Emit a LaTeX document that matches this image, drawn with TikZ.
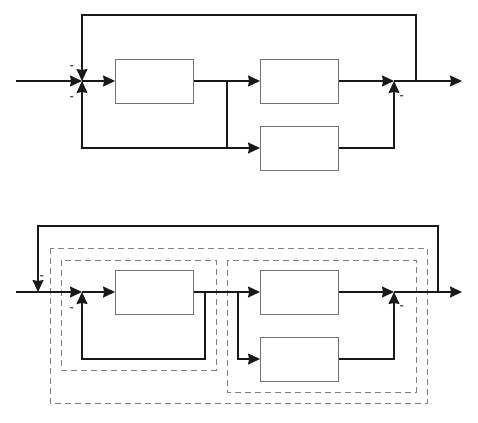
\documentclass[tikz,border=0pt]{standalone}
\usetikzlibrary{arrows.meta}
\begin{document}
\begin{tikzpicture}[x=1pt,y=-1pt,
  blk/.style={draw=black!55,line width=0.9pt,minimum width=78pt,minimum height=44pt,inner sep=0pt},
  conn/.style={line width=1.1pt,draw=black!90},
  arr/.style={conn,-{Stealth[length=12pt,width=11pt,inset=1pt]}},
  grp/.style={draw=black!50,line width=0.7pt,dash pattern=on 6pt off 4pt},
  minus/.style={font=\normalsize\bfseries,inner sep=0pt}]
\useasboundingbox (0,0) rectangle (478,422);
% ---------- top diagram ----------
\coordinate (in1) at (16,81);
\coordinate (s1) at (82,81);
\node[blk] (A) at (154.5,81) {};
\node[blk] (B) at (299.5,81) {};
\node[blk] (C) at (299.5,148) {};
\coordinate (j1) at (227,81);
\coordinate (j1b) at (227,148);
\coordinate (s2) at (394,81);
\coordinate (fb1) at (416,81);
\coordinate (t1) at (416,15);
\coordinate (out1) at (462,81);
\draw[arr] (in1) -- (s1);
\draw[arr] (s1) -- (A);
\draw[conn] (A) -- (j1);
\draw[arr] (j1) -- (B);
\draw[conn] (j1) -- (j1b);
\draw[arr] (j1b) -- (C);
\draw[arr] (j1b) -| (s1);
\draw[arr] (B) -- (s2);
\draw[arr] (C) -| (s2);
\draw[arr] (s2) -- (out1);
\draw[arr] (fb1) -- (t1) -| (s1);
\node[minus] (m1) at (72,67) {-};
\node[minus] (m2) at (72,98) {-};
\node[minus] (m3) at (402,97) {-};
% ---------- bottom diagram ----------
\draw[grp] (50,248) rectangle (427,403);
\draw[grp] (61,260) rectangle (216,370);
\draw[grp] (227,260) rectangle (416,392);
\coordinate (in2) at (16,292);
\coordinate (s3) at (38,292);
\coordinate (s4) at (82,292);
\node[blk] (D) at (154.5,292) {};
\node[blk] (E) at (299.5,292) {};
\node[blk] (F) at (299.5,359) {};
\coordinate (j2a) at (205,292);
\coordinate (j2ab) at (205,359);
\coordinate (j2b) at (238,292);
\coordinate (s5) at (394,292);
\coordinate (fb2) at (438,292);
\coordinate (t2) at (438,226);
\coordinate (out2) at (462,292);
\draw[conn] (in2) -- (s3);
\draw[arr] (s3) -- (s4);
\draw[arr] (s4) -- (D);
\draw[conn] (D) -- (j2b);
\draw[arr] (j2b) -- (E);
\draw[arr] (j2b) |- (F);
\draw[arr] (j2a) -- (j2ab) -| (s4);
\draw[arr] (E) -- (s5);
\draw[arr] (F) -| (s5);
\draw[arr] (s5) -- (out2);
\draw[arr] (fb2) -- (t2) -| (s3);
\node[minus] (m4) at (42,277) {-};
\node[minus] (m5) at (72,309) {-};
\node[minus] (m6) at (402,307) {-};
\end{tikzpicture}
\end{document}
